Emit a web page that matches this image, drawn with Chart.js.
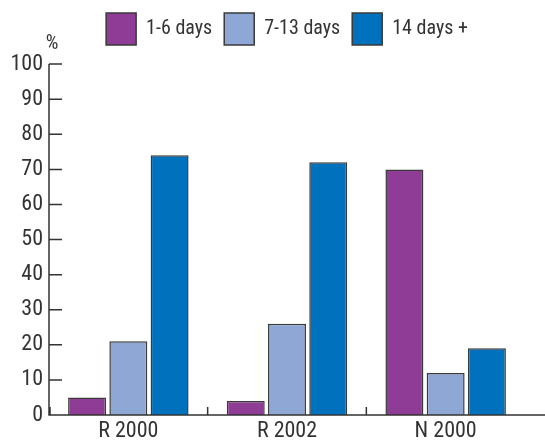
<!DOCTYPE html>
<html>
<head>
<meta charset="utf-8">
<script src="https://cdn.jsdelivr.net/npm/chart.js@4"></script>
<style>
  body { margin: 0; background: #fff; }
  #wrap { width: 545px; height: 440px; }
</style>
</head>
<body>
<div id="wrap"><canvas id="myChart"></canvas></div>
<script>
const groups = ["R 2000", "R 2002", "N 2000"];
const shortStay = [5, 4, 70];   // 1-6 days
const midStay = [21, 26, 12];   // 7-13 days
const longStay = [74, 72, 19];  // 14 days +
const yTicks = [0, 10, 20, 30, 40, 50, 60, 70, 80, 90, 100];

const fontName = "'Roboto Condensed', 'Liberation Sans Narrow', 'DejaVu Sans Condensed', sans-serif";
const ink = '#333333';

// axes drawn by hand: ticks point inward like the printed figure
const axisPlugin = {
  id: 'axisPlugin',
  afterDraw(chart) {
    const ctx = chart.ctx;
    const area = chart.chartArea;
    const x = chart.scales.x;
    const y = chart.scales.y;
    ctx.save();
    ctx.strokeStyle = ink;
    ctx.lineWidth = 1.5;
    ctx.beginPath();
    ctx.moveTo(area.left, y.getPixelForValue(100));
    ctx.lineTo(area.left, area.bottom);
    ctx.lineTo(chart.width, area.bottom);
    yTicks.forEach(v => {
      const py = y.getPixelForValue(v);
      ctx.moveTo(area.left, py);
      ctx.lineTo(area.left + 13, py);
    });
    for (let i = 0; i < groups.length; i++) {
      const px = i == 0 ? area.left + 1 : (x.getPixelForValue(i - 1) + x.getPixelForValue(i)) / 2;
      ctx.moveTo(px, area.bottom);
      ctx.lineTo(px, area.bottom - 8);
    }
    ctx.stroke();
    ctx.fillStyle = ink;
    ctx.font = "20px " + fontName;
    ctx.textAlign = 'center';
    ctx.textBaseline = 'alphabetic';
    ctx.fillText('%', area.left + 3, y.getPixelForValue(100) - 15);
    ctx.restore();
  }
};

const data = {
  labels: groups,
  datasets: [
    { label: '1-6 days', data: shortStay, backgroundColor: '#8E3C96' },
    { label: '7-13 days', data: midStay, backgroundColor: '#8FA7D5' },
    { label: '14 days +', data: longStay, backgroundColor: '#0071BC' }
  ]
};
data.datasets.forEach(d => {
  d.borderColor = '#3a3a3a';
  d.borderWidth = 1.5;
  d.categoryPercentage = 0.78;
  d.barPercentage = 0.92;
});

const config = {
  type: 'bar',
  data: data,
  options: {
    responsive: true,
    maintainAspectRatio: false,
    animation: false,
    layout: { padding: { top: 1, right: 20, left: 0, bottom: 0 } },
    plugins: {
      legend: {
        position: 'top',
        fullSize: false,
        labels: {
          boxWidth: 30,
          boxHeight: 32,
          padding: 12,
          color: ink,
          font: { family: fontName, size: 20 }
        }
      },
      tooltip: { enabled: false }
    },
    scales: {
      x: {
        grid: { display: false, drawTicks: false },
        border: { display: false },
        ticks: { color: ink, padding: 3, font: { family: fontName, size: 22 } },
        afterFit(s) { s.height = 25; }
      },
      y: {
        min: 0,
        max: 102.6,
        grid: { display: false, drawTicks: false },
        border: { display: false },
        ticks: { color: ink, padding: 6, font: { family: fontName, size: 22 } },
        afterBuildTicks(s) { s.ticks = yTicks.map(v => ({ value: v })); },
        afterFit(s) { s.width = 49; }
      }
    }
  },
  plugins: [axisPlugin]
};

const myChart = new Chart(document.getElementById('myChart'), config);
</script>
</body>
</html>
